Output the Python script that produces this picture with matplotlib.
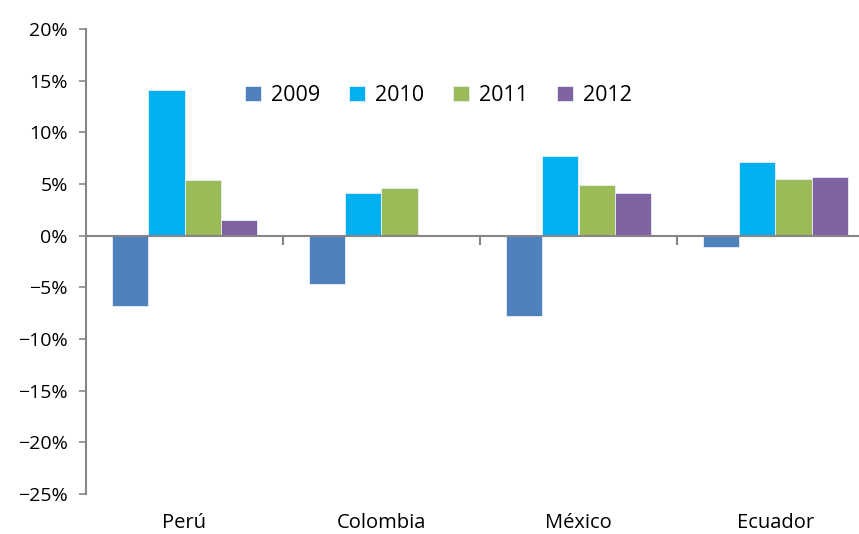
import numpy as np
import matplotlib
matplotlib.use("Agg")
import matplotlib.pyplot as plt
from matplotlib.ticker import FuncFormatter

countries = ["Perú", "Colombia", "México", "Ecuador"]
years = ["2009", "2010", "2011", "2012"]
v2009 = [-6.8, -4.7, -7.8, -1.1]
v2010 = [14.1, 4.1, 7.7, 7.1]
v2011 = [5.4, 4.6, 4.9, 5.5]
v2012 = [1.5, np.nan, 4.1, 5.7]
colors = ["#4F81BD", "#00B0F0", "#9BBB59", "#8064A2"]

plt.rcParams['font.family'] = ['Open Sans', 'DejaVu Sans']

fig = plt.figure(figsize=(8.59, 5.34), dpi=100)
W, H = 859, 534
# axes runs a little past the right edge of the picture, like the original crop
ax = fig.add_axes([86 / W, (H - 494) / H, 788 / W, 465 / H])

x = np.arange(len(countries))
bw = 0.183
series = [v2009, v2010, v2011, v2012]
for i, (vals, c, yr) in enumerate(zip(series, colors, years)):
    ax.bar(x + (i - 1.5) * bw, vals, bw, color=c, label=yr,
           edgecolor="#e8eef5", linewidth=0.6)

ax.set_xlim(-0.5, 3.5)
ax.set_ylim(-25, 20)
ax.set_yticks(np.arange(-25, 21, 5))
ax.yaxis.set_major_formatter(FuncFormatter(lambda v, p: f"{v:.0f}%".replace("-", "\u2212")))

for s in ["top", "right", "bottom"]:
    ax.spines[s].set_visible(False)
ax.spines["left"].set_color("#868686")
ax.spines["left"].set_linewidth(1.5)
ax.axhline(0, color="#868686", linewidth=1.5, zorder=3)
for b in [0.5, 1.5, 2.5]:
    ax.plot([b, b], [0, -0.8], color="#868686", linewidth=1.5, clip_on=False)

ax.tick_params(axis="y", length=5, width=1.2, color="#868686", labelsize=14, pad=8)
ax.set_xticks(x)
ax.set_xticklabels(countries, fontsize=14.5)
ax.tick_params(axis="x", length=0, pad=14)

ax.legend(ncol=4, frameon=False, fontsize=15.5, loc="upper left",
          bbox_to_anchor=(0.177, 0.921), handlelength=0.75, handleheight=0.75,
          columnspacing=1.35, handletextpad=0.45)

fig.savefig("out.png", dpi=100)
